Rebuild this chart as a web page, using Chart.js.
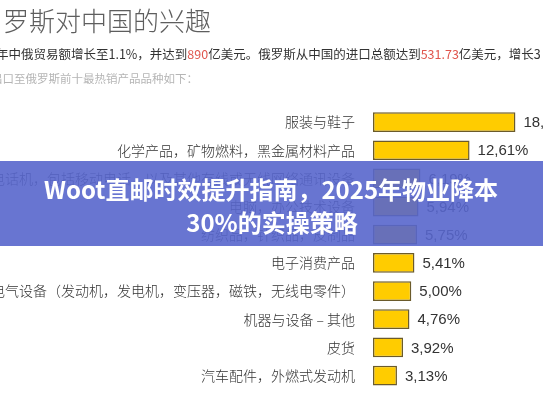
<!DOCTYPE html>
<html><head><meta charset="utf-8">
<script src="https://cdn.jsdelivr.net/npm/chart.js@4"></script>
<style>html,body{margin:0;padding:0;background:#fff;overflow:hidden}#wrap{width:543px;height:408px;position:relative}</style>
</head><body><div id="wrap"><canvas id="c"></canvas></div>
<script>
const categories = [
  '服装与鞋子',
  '化学产品，矿物燃料，黑金属材料产品',
  '电话机，包括移动电话，以及其他有线或无线网络通讯设备',
  '电脑，办公技术设备',
  '纺织品，针织品，皮制品',
  '电子消费产品',
  '电气设备（发动机，发电机，变压器，磁铁，无线电零件）',
  '机器与设备 – 其他',
  '皮货',
  '汽车配件，外燃式发动机'
];
const shares = [18.60, 12.61, 6.19, 5.94, 5.75, 5.41, 5.00, 4.76, 3.92, 3.13];
const valueLabels = shares.map(v => v.toFixed(2).replace('.', ',') + '%');
const titleText = '罗斯对中国的兴趣';
const subtitleParts = [
  ['年中俄贸易额增长至1.1%，并达到', '#333'],
  ['890', '#e0554d'],
  ['亿美元。俄罗斯从中国的进口总额达到', '#333'],
  ['531.73', '#e0554d'],
  ['亿美元，增长3', '#333']
];
const noteText = '出口至俄罗斯前十最热销产品品种如下：';
const bannerLines = ['Woot直邮时效提升指南，2025年物业降本', '30%的实操策略'];

const CJK = '"Noto Sans CJK SC", "Noto Sans", sans-serif';

const decor = {
  id: 'decor',
  afterDatasetsDraw(chart) {
    const ctx = chart.ctx;
    const meta = chart.getDatasetMeta(0);
    ctx.save();
    ctx.font = '15px "Liberation Sans Narrow", "Liberation Sans", Arial, sans-serif';
    ctx.fillStyle = '#333';
    ctx.textAlign = 'left';
    ctx.textBaseline = 'middle';
    meta.data.forEach((bar, i) => {
      ctx.fillText(valueLabels[i], bar.x + 8, bar.y + 1);
    });
    ctx.restore();
  },
  afterDraw(chart) {
    const ctx = chart.ctx;
    ctx.save();
    ctx.font = '300 26px ' + CJK;
    ctx.fillStyle = '#5e5e5e';
    ctx.textAlign = 'left';
    ctx.textBaseline = 'middle';
    ctx.fillText(titleText, 3, 21);
    ctx.font = '12.5px ' + CJK;
    let x = -4;
    subtitleParts.forEach(([t, c]) => {
      ctx.fillStyle = c;
      ctx.fillText(t, x, 54);
      x += ctx.measureText(t).width;
    });
    ctx.font = '11.5px ' + CJK;
    ctx.fillStyle = '#b5b5b5';
    ctx.fillText(noteText, -9, 79);
    ctx.fillStyle = 'rgba(88,102,204,0.9)';
    ctx.fillRect(0, 161, chart.width, 85);
    ctx.fillStyle = '#fff';
    ctx.textAlign = 'center';
    ctx.font = 'bold 24px ' + CJK;
    ctx.fillText(bannerLines[0], 271, 190);
    ctx.fillText(bannerLines[1], 272, 223);
    ctx.restore();
  }
};

new Chart(document.getElementById('c'), {
  type: 'bar',
  data: {
    labels: categories,
    datasets: [{
      data: shares,
      backgroundColor: '#FFCC00',
      borderColor: '#6b5b2b',
      borderWidth: 1.5,
      borderSkipped: false,
      barPercentage: 0.7,
      categoryPercentage: 1
    }]
  },
  options: {
    indexAxis: 'y',
    responsive: true,
    maintainAspectRatio: false,
    animation: false,
    layout: { padding: { top: 108, bottom: 12, left: 0, right: 0 } },
    plugins: { legend: { display: false }, tooltip: { enabled: false } },
    scales: {
      x: { display: false, min: 0, max: 22.2 },
      y: {
        grid: { display: false },
        border: { display: false },
        ticks: { color: '#333', font: { size: 14, family: CJK, weight: 300 }, padding: 10, autoSkip: false },
        afterFit(s) { s.width = 373; }
      }
    }
  },
  plugins: [decor]
});
</script>
</body></html>
